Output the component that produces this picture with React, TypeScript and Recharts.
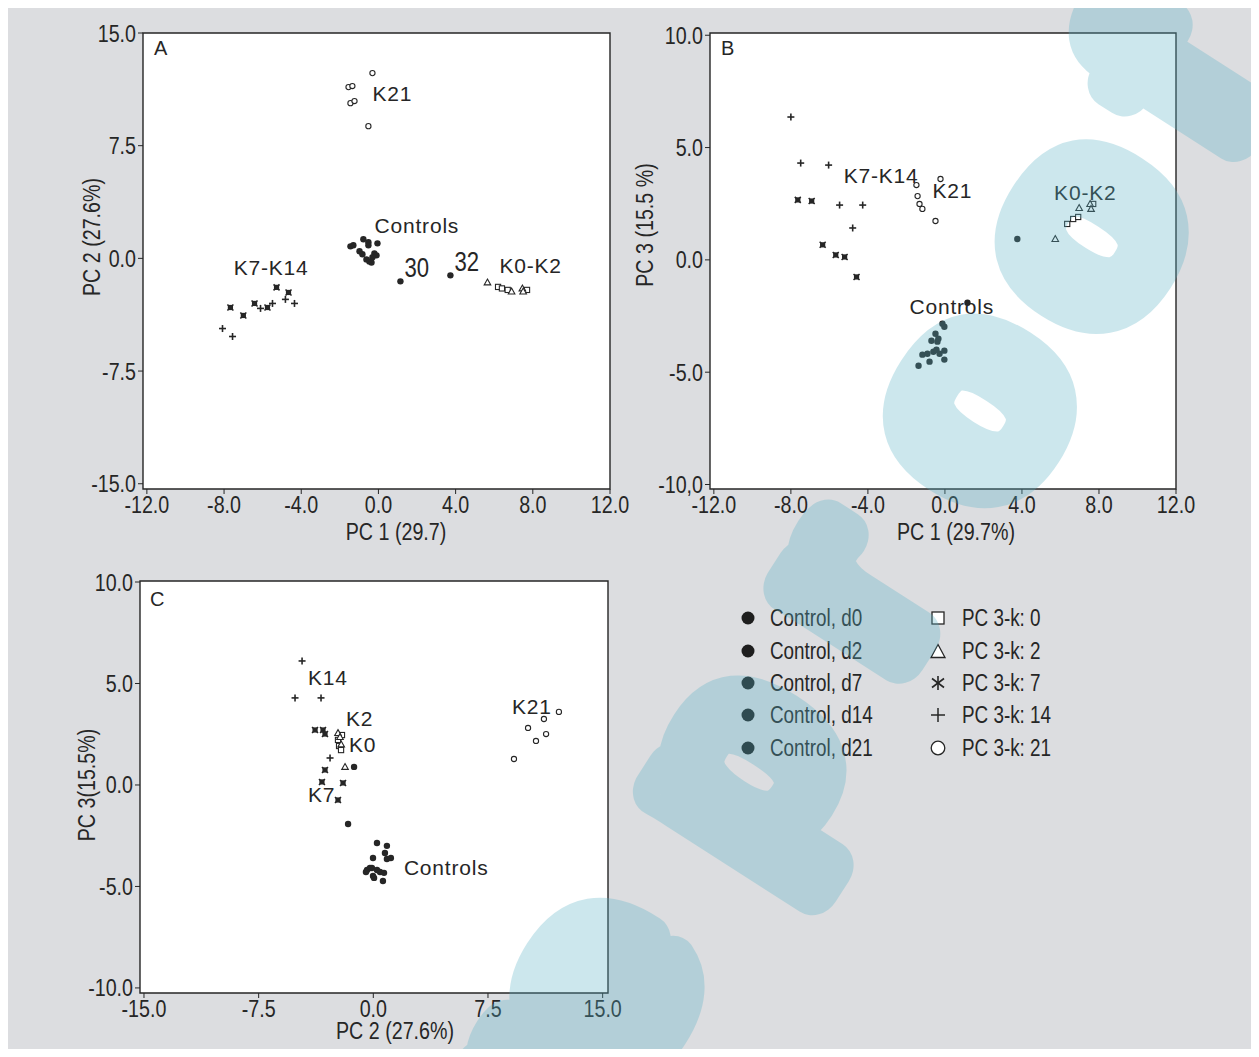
import React from 'react'
import { ScatterChart, Scatter, XAxis, YAxis, ReferenceArea } from 'recharts'

type Pt = { x: number; y: number }
type Note = { x: number; y: number; label: string; narrow?: boolean }

const INK = '#262626'
const FONT = "'Liberation Sans', Arial, sans-serif"
const SQUEEZE = 0.82 // Arial Narrow look from Liberation Sans

// ---- panel A: PC1 vs PC2
const aControls: Pt[] = [
  { x: -1.45, y: 0.8 }, { x: -1.3, y: 0.87 }, { x: -0.78, y: 1.27 }, { x: -0.52, y: 1.07 },
  { x: -0.52, y: 0.87 }, { x: -0.05, y: 1.0 }, { x: -0.98, y: 0.47 }, { x: -0.83, y: 0.27 },
  { x: -0.21, y: 0.33 }, { x: -0.1, y: 0.2 }, { x: -0.62, y: -0.07 }, { x: -0.47, y: -0.2 },
  { x: -0.36, y: -0.27 }, { x: -0.31, y: 0.07 }, { x: 1.14, y: -1.53 }, { x: 3.73, y: -1.13 },
]
const aK0: Pt[] = [{ x: 6.2, y: -1.9 }, { x: 6.4, y: -2.0 }, { x: 6.7, y: -2.1 }, { x: 7.7, y: -2.1 }]
const aK2: Pt[] = [{ x: 5.65, y: -1.6 }, { x: 6.9, y: -2.2 }, { x: 7.46, y: -2.0 }, { x: 7.5, y: -2.2 }]
const aK7: Pt[] = [
  { x: -7.67, y: -3.27 }, { x: -7.0, y: -3.8 }, { x: -6.42, y: -3.0 },
  { x: -5.75, y: -3.27 }, { x: -5.28, y: -1.93 }, { x: -4.66, y: -2.27 },
]
const aK14: Pt[] = [
  { x: -8.08, y: -4.67 }, { x: -7.56, y: -5.2 }, { x: -6.11, y: -3.33 },
  { x: -5.49, y: -3.0 }, { x: -4.82, y: -2.73 }, { x: -4.35, y: -3.0 },
]
const aK21: Pt[] = [
  { x: -0.31, y: 12.33 }, { x: -1.55, y: 11.4 }, { x: -1.35, y: 11.47 },
  { x: -1.45, y: 10.33 }, { x: -1.24, y: 10.47 }, { x: -0.52, y: 8.8 },
]
const aNotes: Note[] = [
  { x: -0.31, y: 10.5, label: 'K21' },
  { x: -0.2, y: 1.67, label: 'Controls' },
  { x: -7.5, y: -1.13, label: 'K7-K14' },
  { x: 1.35, y: -1.27, label: '30', narrow: true },
  { x: 3.94, y: -0.87, label: '32', narrow: true },
  { x: 6.27, y: -1.0, label: 'K0-K2' },
]

// ---- panel B: PC1 vs PC3
const bControls: Pt[] = [
  { x: -0.13, y: -2.84 }, { x: -0.03, y: -2.98 }, { x: -0.49, y: -3.29 }, { x: -0.7, y: -3.6 },
  { x: -0.39, y: -3.64 }, { x: -0.34, y: -3.51 }, { x: -0.6, y: -4.09 }, { x: -0.44, y: -4.0 },
  { x: -0.28, y: -4.18 }, { x: -0.03, y: -4.04 }, { x: -1.17, y: -4.22 }, { x: -0.91, y: -4.18 },
  { x: -0.8, y: -4.53 }, { x: -0.03, y: -4.44 }, { x: -1.37, y: -4.71 }, { x: 1.17, y: -1.91 },
  { x: 3.76, y: 0.93 },
]
const bK0: Pt[] = [{ x: 6.35, y: 1.6 }, { x: 6.66, y: 1.82 }, { x: 6.92, y: 1.91 }, { x: 7.7, y: 2.49 }]
const bK2: Pt[] = [{ x: 5.73, y: 0.93 }, { x: 6.97, y: 2.31 }, { x: 7.54, y: 2.49 }, { x: 7.59, y: 2.27 }]
const bK7: Pt[] = [
  { x: -7.64, y: 2.67 }, { x: -6.92, y: 2.62 }, { x: -6.35, y: 0.67 },
  { x: -5.67, y: 0.22 }, { x: -5.21, y: 0.13 }, { x: -4.59, y: -0.76 },
]
const bK14: Pt[] = [
  { x: -8.0, y: 6.36 }, { x: -7.49, y: 4.31 }, { x: -6.04, y: 4.22 },
  { x: -5.47, y: 2.44 }, { x: -4.27, y: 2.44 }, { x: -4.79, y: 1.42 },
]
const bK21: Pt[] = [
  { x: -1.48, y: 3.33 }, { x: -1.42, y: 2.84 }, { x: -1.32, y: 2.49 },
  { x: -1.17, y: 2.27 }, { x: -0.49, y: 1.73 }, { x: -0.23, y: 3.6 },
]
const bNotes: Note[] = [
  { x: -5.26, y: 3.42, label: 'K7-K14' },
  { x: -0.65, y: 2.76, label: 'K21' },
  { x: 5.67, y: 2.67, label: 'K0-K2' },
  { x: -1.84, y: -2.4, label: 'Controls' },
]

// ---- panel C: PC2 vs PC3
const cControls: Pt[] = [
  { x: 0.24, y: -2.86 }, { x: 0.89, y: -3.0 }, { x: 0.76, y: -3.35 }, { x: 0.89, y: -3.65 },
  { x: 1.15, y: -3.6 }, { x: -0.02, y: -3.6 }, { x: -0.41, y: -4.19 }, { x: -0.22, y: -4.09 },
  { x: -0.09, y: -4.09 }, { x: 0.24, y: -4.19 }, { x: -0.48, y: -4.29 }, { x: 0.44, y: -4.29 },
  { x: 0.7, y: -4.33 }, { x: -0.02, y: -4.48 }, { x: 0.05, y: -4.58 }, { x: 0.63, y: -4.73 },
  { x: -1.26, y: 0.89 }, { x: -1.65, y: -1.92 },
]
const cK0: Pt[] = [{ x: -2.31, y: 2.22 }, { x: -2.24, y: 1.92 }, { x: -2.11, y: 1.72 }, { x: -2.05, y: 2.46 }]
const cK2: Pt[] = [{ x: -2.31, y: 2.56 }, { x: -2.18, y: 2.36 }, { x: -1.85, y: 0.89 }, { x: -2.1, y: 2.0 }]
const cK7: Pt[] = [
  { x: -3.81, y: 2.71 }, { x: -3.29, y: 2.71 }, { x: -3.16, y: 2.51 }, { x: -3.16, y: 0.74 },
  { x: -3.36, y: 0.15 }, { x: -1.98, y: 0.1 }, { x: -2.31, y: -0.74 },
]
const cK14: Pt[] = [{ x: -4.66, y: 6.11 }, { x: -5.12, y: 4.29 }, { x: -3.42, y: 4.29 }, { x: -2.83, y: 1.33 }]
const cK21: Pt[] = [
  { x: 12.14, y: 3.6 }, { x: 11.16, y: 3.25 }, { x: 10.12, y: 2.81 },
  { x: 11.3, y: 2.51 }, { x: 10.64, y: 2.17 }, { x: 9.2, y: 1.28 },
]
const cNotes: Note[] = [
  { x: -4.27, y: 4.93, label: 'K14' },
  { x: -1.79, y: 2.91, label: 'K2' },
  { x: -1.59, y: 1.63, label: 'K0' },
  { x: -4.27, y: -0.84, label: 'K7' },
  { x: 9.07, y: 3.5, label: 'K21' },
  { x: 2.0, y: -4.43, label: 'Controls' },
]

const pc1Ticks = [-12, -8, -4, 0, 4, 8, 12]
const pc1Labels = ['-12.0', '-8.0', '-4.0', '0.0', '4.0', '8.0', '12.0']
const aYTicks = [-15, -7.5, 0, 7.5, 15]
const aYLabels = ['-15.0', '-7.5', '0.0', '7.5', '15.0']
const bYTicks = [-10, -5, 0, 5, 10]
const bYLabels = ['-10,0', '-5.0', '0.0', '5.0', '10.0']
const cXTicks = [-15, -7.5, 0, 7.5, 15]
const cXLabels = ['-15.0', '-7.5', '0.0', '7.5', '15.0']
const cYTicks = [-10, -5, 0, 5, 10]
const cYLabels = ['-10.0', '-5.0', '0.0', '5.0', '10.0']

const legendLeft = ['Control, d0', 'Control, d2', 'Control, d7', 'Control, d14', 'Control, d21']
const legendRight = ['PC 3-k: 0', 'PC 3-k: 2', 'PC 3-k: 7', 'PC 3-k: 14', 'PC 3-k: 21']

// narrow text, drawn from Liberation Sans squeezed horizontally
function NText(props: { x: number; y: number; size: number; anchor?: string; rotate?: number; children: React.ReactNode }) {
  const rot = props.rotate ? ` rotate(${props.rotate})` : ''
  return (
    <text
      transform={`translate(${props.x},${props.y})${rot} scale(${SQUEEZE},1)`}
      textAnchor={props.anchor ?? 'start'}
      fontFamily={FONT}
      fontSize={props.size}
      fill={INK}
    >
      {props.children}
    </text>
  )
}

// marker shapes
const controlShape = (p: any) => <circle cx={p.cx} cy={p.cy} r={3.2} fill={INK} />
const k21Shape = (p: any) => <circle cx={p.cx} cy={p.cy} r={2.6} fill="#fff" stroke={INK} strokeWidth={1.1} />
const k0Shape = (p: any) => (
  <rect x={p.cx - 2.6} y={p.cy - 2.6} width={5.2} height={5.2} fill="#fff" stroke={INK} strokeWidth={1.1} />
)
const k2Shape = (p: any) => (
  <path d={`M${p.cx},${p.cy - 3.4}L${p.cx + 3.3},${p.cy + 2.5}L${p.cx - 3.3},${p.cy + 2.5}Z`} fill="#fff" stroke={INK} strokeWidth={1.1} />
)
const k7Shape = (p: any) => (
  <g stroke={INK} strokeWidth={1.5}>
    <rect x={p.cx - 2.6} y={p.cy - 2.6} width={5.2} height={5.2} fill={INK} stroke="none" />
    <line x1={p.cx - 3} y1={p.cy - 3} x2={p.cx + 3} y2={p.cy + 3} />
    <line x1={p.cx - 3} y1={p.cy + 3} x2={p.cx + 3} y2={p.cy - 3} />
  </g>
)
const k14Shape = (p: any) => (
  <g stroke={INK} strokeWidth={1.6}>
    <line x1={p.cx - 3.5} y1={p.cy} x2={p.cx + 3.5} y2={p.cy} />
    <line x1={p.cx} y1={p.cy - 3.5} x2={p.cx} y2={p.cy + 3.5} />
  </g>
)
const noteShape = (p: any) =>
  p.payload.narrow ? (
    <NText x={p.cx} y={p.cy} size={27}>{p.payload.label}</NText>
  ) : (
    <text x={p.cx} y={p.cy} fill={INK} fontFamily={FONT} fontSize={21} letterSpacing={0.8}>
      {p.payload.label}
    </text>
  )

type PanelProps = {
  left: number
  top: number
  width: number
  height: number
  margin: { top: number; right: number; bottom: number; left: number }
  xAxisHeight: number
  xDomain: [number, number]
  yDomain: [number, number]
  xTicks: number[]
  xLabels: string[]
  yTicks: number[]
  yLabels: string[]
  controls: Pt[]
  k0: Pt[]
  k2: Pt[]
  k7: Pt[]
  k14: Pt[]
  k21: Pt[]
  notes: Note[]
}

function Panel(props: PanelProps) {
  const xTick = (p: any) => (
    <NText x={p.x} y={p.y + 17} size={24} anchor="middle">
      {props.xLabels[props.xTicks.indexOf(p.payload.value)]}
    </NText>
  )
  const yTick = (p: any) => (
    <NText x={p.x} y={p.y + 8.5} size={24} anchor="end">
      {props.yLabels[props.yTicks.indexOf(p.payload.value)]}
    </NText>
  )
  return (
    <div style={{ position: 'absolute', left: props.left, top: props.top }}>
      <ScatterChart width={props.width} height={props.height} margin={props.margin}>
        <XAxis
          type="number"
          dataKey="x"
          domain={props.xDomain}
          ticks={props.xTicks}
          interval={0}
          tick={xTick}
          tickLine={{ stroke: INK }}
          tickSize={5}
          axisLine={false}
          height={props.xAxisHeight}
          allowDataOverflow
        />
        <YAxis
          type="number"
          dataKey="y"
          domain={props.yDomain}
          ticks={props.yTicks}
          interval={0}
          tick={yTick}
          tickLine={{ stroke: INK }}
          tickSize={5}
          axisLine={false}
          width={60}
          allowDataOverflow
        />
        <ReferenceArea
          x1={props.xDomain[0]}
          x2={props.xDomain[1]}
          y1={props.yDomain[0]}
          y2={props.yDomain[1]}
          fill="#fff"
          fillOpacity={1}
          stroke={INK}
          strokeWidth={1.4}
        />
        <Scatter data={props.controls} shape={controlShape} isAnimationActive={false} />
        <Scatter data={props.k0} shape={k0Shape} isAnimationActive={false} />
        <Scatter data={props.k2} shape={k2Shape} isAnimationActive={false} />
        <Scatter data={props.k7} shape={k7Shape} isAnimationActive={false} />
        <Scatter data={props.k14} shape={k14Shape} isAnimationActive={false} />
        <Scatter data={props.k21} shape={k21Shape} isAnimationActive={false} />
        <Scatter data={props.notes} shape={noteShape} isAnimationActive={false} />
      </ScatterChart>
    </div>
  )
}

function LegendIcon({ kind }: { kind: number }) {
  const c = 9
  if (kind === 0) return <rect x={3} y={3} width={12} height={12} fill="#fff" stroke={INK} strokeWidth={1.3} />
  if (kind === 1) return <path d="M9,2.5L16,15.5L2,15.5Z" fill="#fff" stroke={INK} strokeWidth={1.3} />
  if (kind === 2)
    return (
      <g stroke={INK} strokeWidth={1.6}>
        <line x1={c} y1={2} x2={c} y2={16} />
        <line x1={3} y1={4.5} x2={15} y2={13.5} />
        <line x1={3} y1={13.5} x2={15} y2={4.5} />
      </g>
    )
  if (kind === 3)
    return (
      <g stroke={INK} strokeWidth={1.5}>
        <line x1={2} y1={c} x2={16} y2={c} />
        <line x1={c} y1={2} x2={c} y2={16} />
      </g>
    )
  return <circle cx={c} cy={c} r={6.8} fill="#fff" stroke={INK} strokeWidth={1.3} />
}

function Legend() {
  const rowY = [618, 651, 683, 715, 748]
  return (
    <svg style={{ position: 'absolute', left: 0, top: 0 }} width={1259} height={1057}>
      {legendLeft.map((t, i) => (
        <g key={t}>
          <circle cx={748} cy={rowY[i]} r={6.5} fill="#1e1e1e" />
          <NText x={770} y={rowY[i] + 8} size={23}>{t}</NText>
        </g>
      ))}
      {legendRight.map((t, i) => (
        <g key={t}>
          <g transform={`translate(929,${rowY[i] - 9})`}>
            <LegendIcon kind={i} />
          </g>
          <NText x={962} y={rowY[i] + 8} size={23}>{t}</NText>
        </g>
      ))}
    </svg>
  )
}

function Titles() {
  return (
    <svg style={{ position: 'absolute', left: 0, top: 0 }} width={1259} height={1057}>
      <NText x={396} y={540} size={24} anchor="middle">PC 1 (29.7)</NText>
      <NText x={956} y={540} size={24} anchor="middle">PC 1 (29.7%)</NText>
      <NText x={395} y={1039} size={24} anchor="middle">PC 2 (27.6%)</NText>
      <NText x={100} y={237} size={24} anchor="middle" rotate={-90}>PC 2 (27.6%)</NText>
      <NText x={653} y={225} size={24} anchor="middle" rotate={-90}>PC 3 (15.5 %)</NText>
      <NText x={95} y={785} size={24} anchor="middle" rotate={-90}>PC 3(15.5%)</NText>
      <text fontFamily={FONT} fontSize={20} fill={INK} x={154} y={55}>A</text>
      <text fontFamily={FONT} fontSize={20} fill={INK} x={721} y={55}>B</text>
      <text fontFamily={FONT} fontSize={20} fill={INK} x={150} y={606}>C</text>
    </svg>
  )
}

// "proof" watermark laid over the figure, letters placed along a rotated baseline
const wmLetters = [
  { ch: 'Pre', t: -615, anchor: 'end' },
  { ch: 'p', t: -432, anchor: 'middle' },
  { ch: 'r', t: -222, anchor: 'middle' },
  { ch: 'o', t: 0, anchor: 'middle' },
  { ch: 'o', t: 207, anchor: 'middle' },
  { ch: 'f', t: 385, anchor: 'middle' },
]

function Watermark() {
  const S = 251
  const col = 'rgb(88,178,198)'
  const base = 0.2595 * S
  return (
    <svg style={{ position: 'absolute', left: 0, top: 0, pointerEvents: 'none' }} width={1259} height={1057}>
      <g opacity={0.3} transform="translate(981,412) rotate(-57.3)">
        {wmLetters.map((l, i) => (
          <text
            key={i}
            transform={`translate(${l.t},${base}) scale(1.11,1)`}
            textAnchor={l.anchor}
            fontFamily={FONT}
            fontSize={S}
            fill={col}
            stroke={col}
            strokeWidth={50}
            strokeLinejoin="round"
            strokeLinecap="round"
          >
            {l.ch}
          </text>
        ))}
      </g>
    </svg>
  )
}

export default function App() {
  return (
    <div style={{ position: 'relative', width: 1259, height: 1057, margin: -8, background: '#dcdde0', overflow: 'hidden' }}>
      <Panel
        left={0}
        top={0}
        width={640}
        height={560}
        margin={{ top: 33, right: 30, bottom: 11, left: 83 }}
        xAxisHeight={60}
        xDomain={[-12.2, 12]}
        yDomain={[-15.35, 15]}
        xTicks={pc1Ticks}
        xLabels={pc1Labels}
        yTicks={aYTicks}
        yLabels={aYLabels}
        controls={aControls}
        k0={aK0}
        k2={aK2}
        k7={aK7}
        k14={aK14}
        k21={aK21}
        notes={aNotes}
      />
      <Panel
        left={620}
        top={0}
        width={600}
        height={560}
        margin={{ top: 33, right: 44, bottom: 11, left: 30 }}
        xAxisHeight={60}
        xDomain={[-12.2, 12]}
        yDomain={[-10.2, 10.1]}
        xTicks={pc1Ticks}
        xLabels={pc1Labels}
        yTicks={bYTicks}
        yLabels={bYLabels}
        controls={bControls}
        k0={bK0}
        k2={bK2}
        k7={bK7}
        k14={bK14}
        k21={bK21}
        notes={bNotes}
      />
      <Panel
        left={0}
        top={548}
        width={640}
        height={500}
        margin={{ top: 33, right: 32, bottom: 0, left: 80 }}
        xAxisHeight={55}
        xDomain={[-15.26, 15.35]}
        yDomain={[-10.25, 10.05]}
        xTicks={cXTicks}
        xLabels={cXLabels}
        yTicks={cYTicks}
        yLabels={cYLabels}
        controls={cControls}
        k0={cK0}
        k2={cK2}
        k7={cK7}
        k14={cK14}
        k21={cK21}
        notes={cNotes}
      />
      <Titles />
      <Legend />
      <Watermark />
    </div>
  )
}
